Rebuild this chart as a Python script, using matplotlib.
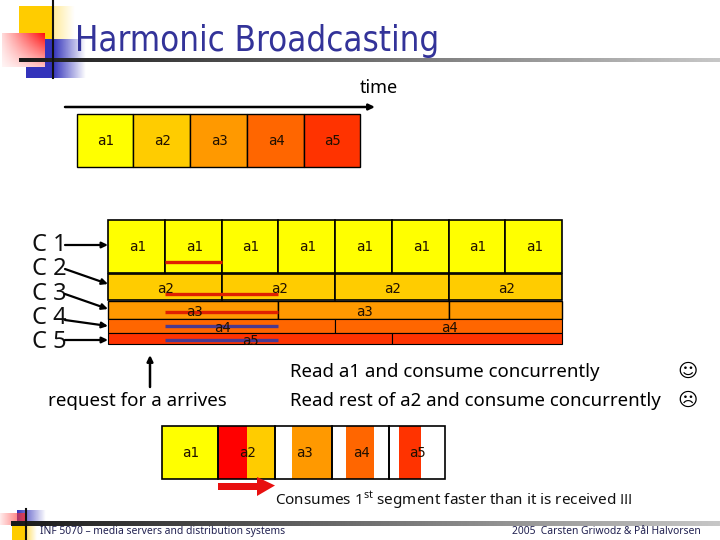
import numpy as np
from matplotlib import pyplot as plt
from matplotlib.patches import Rectangle, Polygon

plt.rcParams['font.family'] = ['Noto Sans', 'DejaVu Sans']
plt.rcParams['mathtext.fontset'] = 'custom'
plt.rcParams['mathtext.rm'] = 'Noto Sans'

# segment names and colours
segments = ['a1', 'a2', 'a3', 'a4', 'a5']
seg_colors = ['#FFFF00', '#FFCC00', '#FF9900', '#FF6600', '#FF3300']

# broadcast channels, boundaries in slots (a1 long slots)
channels = ['C 1', 'C 2', 'C 3', 'C 4', 'C 5']
channel_edges = [
    [0, 1, 2, 3, 4, 5, 6, 7, 8],
    [0, 2, 4, 6, 8],
    [0, 3, 6, 8],
    [0, 4, 8],
    [0, 5, 8],
]
# how many of the repetitions in each channel have a label
labelled = [8, 4, 2, 2, 1]
# part of each segment the client already has when playing (slots)
read_from = [0.0, 0.0, 0.3, 0.25, 0.18]
read_to = [1.0, 1.0, 1.0, 0.75, 0.57]
# waiting line for each channel, in slots
wait_start = [1, 1, 1, 1, 1]
wait_end = [2, 3, 3, 3, 3]
wait_colors = ['#E02000', '#E02000', '#E02000', '#4A3A90', '#4A3A90']

SLOT = 56.75
GRID_X = 108
ROW_TOPS = [220, 274, 301, 319, 333]
ROW_BOTS = [273, 300, 319, 333, 344]
ROW_LW = [1.2, 1.2, 1.0, 0.8, 0.8]
WAIT_Y = [262, 294, 312, 326, 340]
LABEL_Y = [247, 289, 312, 328, 341]
C_Y = [245, 269, 294, 318, 342]
ARROW_Y = [(245, 245), (269, 284), (294, 309), (320, 326), (340, 340)]

NAVY = '#333399'


def sx(slot, x0=GRID_X):
    return x0 + SLOT * slot


def fade(ax, x0, x1, y0, y1, color, horiz=True, start=1.0, end=0.0):
    """rectangle that fades from color to transparent"""
    rgb = plt.matplotlib.colors.to_rgb(color)
    a = np.linspace(start, end, 64)
    img = np.ones((1, 64, 4)) if horiz else np.ones((64, 1, 4))
    img[..., :3] = rgb
    img[..., 3] = a.reshape(img.shape[:2])
    ax.imshow(img, extent=(x0, x1, y1, y0), aspect='auto', interpolation='bilinear', zorder=2)


def rule(ax, x0, x1, y0, y1):
    """grey gradient line under title / above footer"""
    v = np.linspace(0.1, 0.78, 256).reshape(1, -1)
    ax.imshow(v, extent=(x0, x1, y1, y0), aspect='auto', cmap='gray', vmin=0, vmax=1, zorder=3)


def seg_text(ax, x, y, s):
    ax.text(x + 1, y, s, family='DejaVu Sans Mono', fontsize=10, ha='center', va='center',
            color='#201000', zorder=6)


def arrow(ax, start, end, lw=1.8):
    ax.annotate('', xy=end, xytext=start, zorder=7,
                arrowprops=dict(arrowstyle='-|>,head_length=0.35,head_width=0.17', lw=lw,
                                color='black', shrinkA=0, shrinkB=0))


fig = plt.figure(figsize=(7.2, 5.4), dpi=100)
ax = fig.add_axes([0, 0, 1, 1])

# top logo
ax.add_patch(Rectangle((19, 6), 34, 33, fc='#FFCC00', ec='none', zorder=1))
fade(ax, 53, 75, 6, 39, '#FFCC00', start=0.4)
ax.add_patch(Rectangle((26, 39), 27, 39, fc='#3333BB', ec='none', zorder=1))
fade(ax, 53, 86, 39, 78, '#3333BB', start=1.0)
ax.add_patch(Rectangle((2, 33), 43, 34, fc='white', ec='none', zorder=1.5))
fade(ax, 2, 45, 33, 67, '#FF0000', start=0.15, end=0.95)
fade(ax, 2, 45, 33, 67, '#FFFFFF', horiz=False, start=0.0, end=0.75)
ax.plot([53, 53], [1, 78], color='#101010', lw=1.5, zorder=4)
rule(ax, 19, 720, 58, 62)

# bottom logo
fade(ax, 17, 46, 510, 522, '#3333BB', start=1.0)
fade(ax, 0, 26, 513, 525, '#FF3030', start=0.1, end=0.8)
ax.add_patch(Rectangle((12, 526), 14, 14, fc='#FFCC00', ec='none', zorder=1))
fade(ax, 26, 37, 526, 540, '#FFCC00', start=0.6)
rule(ax, 11, 720, 521, 526)
ax.plot([26, 26], [509, 540], color='#101010', lw=1.5, zorder=4)

ax.text(75, 41, 'Harmonic Broadcasting', family='DejaVu Sans', stretch='condensed', fontsize=24.9, color=NAVY,
        va='center', ha='left', zorder=5)
ax.text(379, 88, 'time', fontsize=13, va='center', ha='center')
arrow(ax, (65, 107), (375, 107))

# segments along the time axis
top_x = 76.5
for i, name in enumerate(segments):
    ax.add_patch(Rectangle((sx(i, top_x), 114), SLOT, 53, fc=seg_colors[i], ec='black', lw=1, zorder=2))
    seg_text(ax, sx(i + 0.5, top_x), 141, name)

# broadcast channels
for i, edges in enumerate(channel_edges):
    top, bot = ROW_TOPS[i], ROW_BOTS[i]
    for j in range(len(edges) - 1):
        x0, x1 = sx(edges[j]), sx(edges[j + 1])
        ax.add_patch(Rectangle((x0, top), x1 - x0, bot - top, fc=seg_colors[i], ec='black',
                               lw=ROW_LW[i], zorder=2))
        if j < labelled[i]:
            seg_text(ax, (x0 + x1) / 2, LABEL_Y[i], segments[i])
    ax.text(49, C_Y[i], channels[i], fontsize=17, va='center', ha='center', color='#101010')
    arrow(ax, (65, ARROW_Y[i][0]), (GRID_X, ARROW_Y[i][1]), lw=1.6)
    ax.plot([sx(wait_start[i]), sx(wait_end[i])], [WAIT_Y[i]] * 2, color=wait_colors[i],
            lw=2.4, solid_capstyle='butt', zorder=5)

# request marker
arrow(ax, (150, 387), (150, 355))
ax.text(137, 401, 'request for a arrives', fontsize=13.5, va='center', ha='center')

ax.text(290, 372, 'Read a1 and consume concurrently', fontsize=13.4, va='center', ha='left')
ax.text(290, 401, 'Read rest of a2 and consume concurrently', fontsize=13.4, va='center', ha='left')
ax.text(688, 371, '\u263A', family='DejaVu Sans', weight='bold', fontsize=14, va='center', ha='center')
ax.text(688, 400, '\u2639', family='DejaVu Sans', weight='bold', fontsize=14, va='center', ha='center')

# what is read while playing
play_x = 161.5
for i, name in enumerate(segments):
    x0 = sx(i, play_x)
    ax.add_patch(Rectangle((x0 + read_from[i] * SLOT, 426), (read_to[i] - read_from[i]) * SLOT, 53,
                           fc=seg_colors[i], ec='none', zorder=2))
    if i == 1:
        ax.add_patch(Rectangle((x0, 426), 0.5 * SLOT, 53, fc='#FF0000', ec='none', zorder=3))
    ax.add_patch(Rectangle((x0, 426), SLOT, 53, fc='none', ec='black', lw=1.2, zorder=4))
    seg_text(ax, sx(i + 0.5, play_x), 453, name)

ax.add_patch(Polygon([(218, 483), (257, 483), (257, 477), (275, 485.5), (257, 496), (257, 490), (218, 490)],
                     fc='#E81010', ec='none', zorder=5))
ax.text(275, 501, r'Consumes 1$^{\mathrm{st}}$ segment faster than it is received !!!', fontsize=11,
        va='center', ha='left', color='#101010')

ax.text(40, 531.5, 'INF 5070 \u2013 media servers and distribution systems', fontsize=7.45, color='#202050',
        va='center', ha='left')
ax.text(701, 531.5, '2005  Carsten Griwodz & P\u00e5l Halvorsen', fontsize=7.45, color='#202050',
        va='center', ha='right')

ax.set_xlim(0, 720)
ax.set_ylim(540, 0)
ax.axis('off')
fig.savefig('out.png', dpi=100)
